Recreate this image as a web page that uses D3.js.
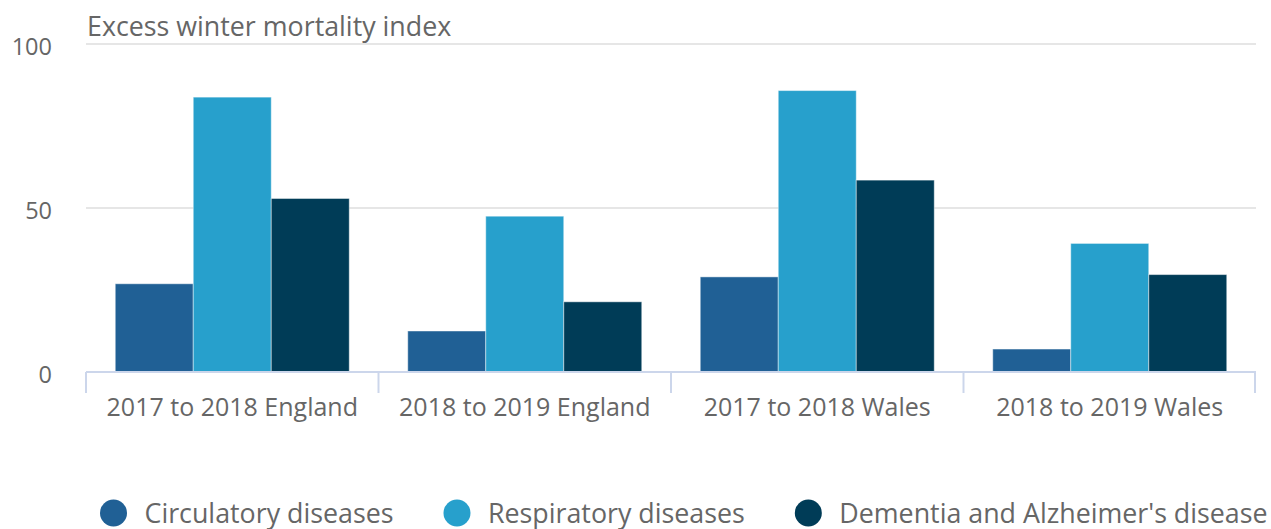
<!DOCTYPE html>
<html>
<head>
<meta charset="utf-8">
<script src="https://cdn.jsdelivr.net/npm/d3@7"></script>
<style>
    body { margin: 0; background: #fff; }
    svg text { font-family: 'Open Sans', 'Noto Sans', sans-serif; }
</style>
</head>
<body>
<div id="chart"></div>
<script>
// data
let categories = ['2017 to 2018 England', '2018 to 2019 England', '2017 to 2018 Wales', '2018 to 2019 Wales']
let seriesNames = ['Circulatory diseases', 'Respiratory diseases', "Dementia and Alzheimer's disease"]
let circulatory = [26.9, 12.5, 29.0, 7.0]
let respiratory = [83.8, 47.5, 85.8, 39.2]
let dementia = [52.9, 21.4, 58.5, 29.7]
let yTicks = [0, 50, 100]
let colors = ['#206095', '#27a0cc', '#003c57']
let yTitle = 'Excess winter mortality index'

let svgWidth = 1271
let svgHeight = 529
let padding = { 'left': 86, 'right': 15, 'top': 44, 'bottom': 157 }

let svg = d3.select('#chart').append('svg')
    .attr('width', svgWidth)
    .attr('height', svgHeight)

let values = [circulatory, respiratory, dementia]
let table = categories.map((c, i) => ({
    cat: c,
    vals: seriesNames.map((s, j) => ({ name: s, value: values[j][i], color: colors[j] }))
}))

let x0 = d3.scaleBand()
    .domain(categories)
    .range([padding.left, svgWidth - padding.right])
let x1 = d3.scaleBand()
    .domain(seriesNames)
    .range([0, x0.bandwidth()])
    .paddingOuter(0.375)
let y = d3.scaleLinear()
    .domain([0, 100])
    .range([svgHeight - padding.bottom, padding.top])

// gridlines
svg.append('g')
    .selectAll('line')
    .data(yTicks.filter(d => d > 0))
    .enter()
    .append('line')
    .attr('x1', padding.left)
    .attr('x2', svgWidth - padding.right)
    .attr('y1', d => y(d))
    .attr('y2', d => y(d))
    .attr('stroke', '#e6e6e6')
    .attr('stroke-width', 2)

// y labels
let axis_y = d3.axisLeft(y).tickValues(yTicks).tickSize(0).tickFormat(d => d)
let gy = svg.append('g')
    .attr('transform', `translate(${52}, ${0})`)
    .call(axis_y)
    .attr('font-family', null)
gy.select('.domain').remove()
gy.selectAll('text')
    .attr('font-size', '23.5px')
    .attr('fill', '#666')
    .attr('dy', '0.45em')
    .attr('x', 0)

// title
svg.append('text')
    .attr('x', 87)
    .attr('y', 36)
    .attr('font-size', '26.8px')
    .attr('fill', '#666')
    .text(yTitle)

// bars
svg.append('g')
    .selectAll('g')
    .data(table)
    .enter()
    .append('g')
    .attr('transform', d => `translate(${x0(d.cat)}, 0)`)
    .selectAll('rect')
    .data(d => d.vals)
    .enter()
    .append('rect')
    .attr('x', d => x1(d.name))
    .attr('y', d => y(d.value))
    .attr('width', x1.bandwidth())
    .attr('height', d => y(0) - y(d.value))
    .attr('fill', d => d.color)
    .attr('stroke', 'rgba(255,255,255,0.45)')
    .attr('stroke-width', 1)

// x axis
let axis_x = d3.axisBottom(x0).tickSize(0).tickPadding(0)
let gx = svg.append('g')
    .attr('transform', `translate(0, ${y(0)})`)
    .call(axis_x)
    .attr('font-family', null)
gx.select('.domain')
    .attr('stroke', '#ccd6eb')
    .attr('stroke-width', 2)
    .attr('d', `M${padding.left},0H${svgWidth - padding.right}`)
gx.selectAll('text')
    .attr('font-size', '25px')
    .attr('fill', '#666')
    .attr('y', 44)
    .attr('dy', 0)

let bounds = categories.map(c => x0(c)).concat([x0.range()[1]])
gx.selectAll('.bound')
    .data(bounds)
    .enter()
    .append('line')
    .attr('class', 'bound')
    .attr('x1', d => Math.min(d, svgWidth - padding.right - 1))
    .attr('x2', d => Math.min(d, svgWidth - padding.right - 1))
    .attr('y1', 0)
    .attr('y2', 21)
    .attr('stroke', '#ccd6eb')
    .attr('stroke-width', 2)

// legend
let legend = svg.append('g')
let lx = 100
seriesNames.forEach((s, i) => {
    let item = legend.append('g').attr('transform', `translate(${lx}, ${513})`)
    item.append('circle')
        .attr('cx', 13.5)
        .attr('cy', 0)
        .attr('r', 13.5)
        .attr('fill', colors[i])
    let t = item.append('text')
        .attr('x', 44.5)
        .attr('y', 10)
        .attr('font-size', '26.8px')
        .attr('fill', '#666')
        .text(s)
    let w = t.node().getComputedTextLength()
    lx += 44.5 + w + 50
})
</script>
</body>
</html>
